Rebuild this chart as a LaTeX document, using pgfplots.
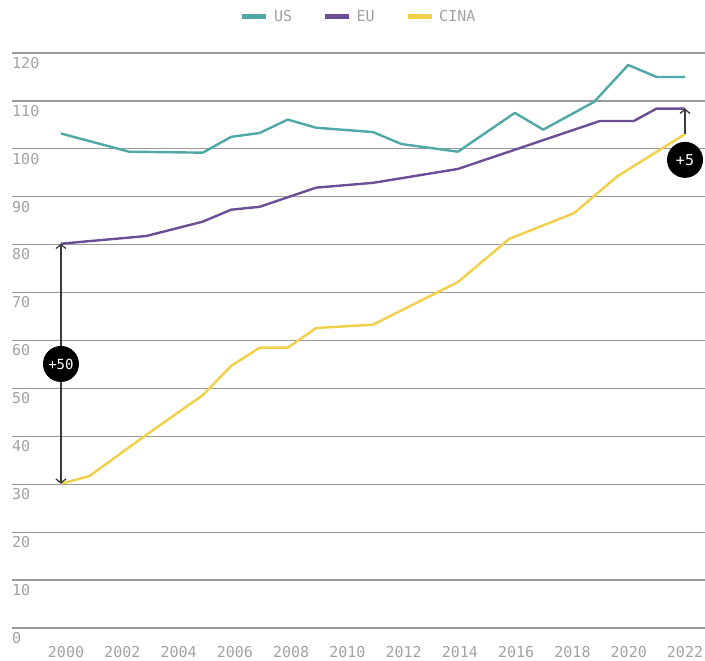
\documentclass[border=0pt]{standalone}
\usepackage{fontspec}
\setmainfont{DejaVu Sans Mono}
\usepackage{pgfplots}
\pgfplotsset{compat=1.18}
\usetikzlibrary{arrows.meta}
\definecolor{usc}{HTML}{4FA8A6}
\definecolor{euc}{HTML}{6B4E96}
\definecolor{cnc}{HTML}{F1CF47}
\definecolor{gridc}{HTML}{9A9A9A}
\definecolor{labc}{HTML}{A2A2A2}
\definecolor{arrc}{HTML}{3A3A3A}

\begin{document}
\begin{tikzpicture}
\begin{axis}[
 scale only axis,
 width=693pt, height=575pt,
 xmin=1998.08, xmax=2022.71,
 ymin=0, ymax=120,
 axis line style={draw=none},
 tick style={draw=none},
 ymajorgrids,
 grid style={gridc, line width=1.3pt},
 ytick={0,10,...,120},
 xtick={2000,2002,...,2022},
 /pgf/number format/assume math mode=true,
 x tick label style={/pgf/number format/1000 sep={}},
 tick label style={font=\fontsize{15}{17}\selectfont, text=labc},
 yticklabel style={anchor=north west, inner sep=0pt, xshift=0pt, yshift=-4pt},
 xticklabel style={anchor=north, inner sep=0pt, yshift=-18pt},
 legend style={at={(axis description cs:0.5,1)}, anchor=south, yshift=26pt,
   draw=none, legend columns=-1, font=\fontsize{15}{17}\selectfont, text=labc,
   /tikz/every even column/.append style={column sep=28pt},
   /tikz/every odd column/.append style={column sep=3pt}},
 legend image code/.code={\draw[line width=5.5pt] (0pt,0pt) -- (24pt,0pt);},
 every axis plot/.append style={line width=2.4pt, line join=round, no markers},
 clip=false,
]
\addplot[usc] coordinates {
 (1999.82,103.2) (2002.24,99.4) (2004.86,99.2) (2005.87,102.5) (2006.88,103.3)
 (2007.88,106.1) (2008.89,104.4) (2010.91,103.5) (2011.92,101.0) (2013.93,99.4)
 (2015.95,107.5) (2016.96,104.0) (2018.77,109.8) (2019.98,117.5) (2020.99,115.0)
 (2022,115.0)
};
\addlegendentry{US}
\addplot[euc] coordinates {
 (1999.82,80.2) (2002.85,81.8) (2004.86,84.8) (2005.87,87.3) (2006.88,87.9)
 (2008.89,91.9) (2010.91,92.9) (2013.93,95.8) (2018.97,105.8) (2020.18,105.8)
 (2020.99,108.4) (2022,108.4)
};
\addlegendentry{EU}
\addplot[cnc] coordinates {
 (1999.82,30.1) (2000.83,31.7) (2002.85,40.3) (2004.86,48.6) (2005.87,54.7)
 (2006.88,58.5) (2007.88,58.5) (2008.89,62.6) (2010.91,63.3) (2013.93,72.2)
 (2015.75,81.2) (2018.06,86.6) (2019.58,94.2) (2022,103.1)
};
\addlegendentry{CINA}
\draw[arrc, line width=1.3pt, {Straight Barb[length=4pt,width=10pt]}-{Straight Barb[length=4pt,width=10pt]}]
 (axis cs:1999.82,30.1) -- (axis cs:1999.82,80.2);
\node[circle, fill=black, minimum size=36pt, inner sep=0pt, text=white,
 font=\fontsize{14}{16}\selectfont] at (axis cs:1999.82,55.1) {+50};
\draw[arrc, line width=1.3pt, -{Straight Barb[length=4pt,width=10pt]}]
 (axis cs:2022,103.1) -- (axis cs:2022,108.4);
\node[circle, fill=black, minimum size=36pt, inner sep=0pt, text=white,
 font=\fontsize{15}{17}\selectfont] at (axis cs:2022,97.7) {+5};
\end{axis}
\pgfresetboundingbox
\path[use as bounding box] (-12pt,-33pt) rectangle (693pt,628pt);
\end{tikzpicture}
\end{document}
